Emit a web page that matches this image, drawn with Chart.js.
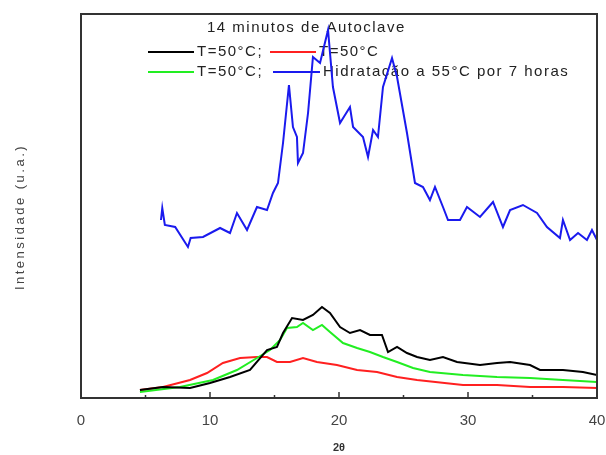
<!DOCTYPE html>
<html><head><meta charset="utf-8">
<script src="https://cdn.jsdelivr.net/npm/chart.js@4.4.1/dist/chart.umd.min.js"></script>
<style>html,body{margin:0;padding:0;background:#fff;}#c{display:block;}</style>
</head><body>
<canvas id="c" width="606" height="455"></canvas>
<script>
const xTicks = [0, 10, 20, 30, 40];
const minorTicks = [5, 15, 25, 35];
const legendTitle = "14 minutos de Autoclave";
const seriesLabels = ["T=50°C;", "T=50°C", "T=50°C;", "Hidratação a 55°C por 7 horas"];
const yTitle = "Intensidade (u.a.)";
const xTitle = "2θ";

const blueX = [6.2,6.3,6.5,7.3,8.29,8.5,9.46,10.78,11.55,12.09,12.87,13.64,14.42,14.88,15.27,15.66,16.12,16.43,16.74,16.82,17.21,17.6,17.98,18.53,19.15,19.53,20.08,20.85,21.09,21.86,22.25,22.64,23.02,23.41,24.11,24.5,25.27,25.89,26.51,27.05,27.44,28.06,28.45,29.38,29.92,30.93,31.94,32.71,33.26,34.26,35.35,36.12,37.13,37.36,37.91,38.53,39.22,39.61,40];
const blueY = [178,190,173,171,151,160,161,170,165,185,168,191,188,205,215,255,313,271,261,235,245,285,341,335,368,311,275,291,271,261,241,268,261,311,340,321,265,215,211,198,211,191,178,178,191,181,196,171,188,193,185,171,160,178,158,165,158,168,158];

const blackX = [4.57,6.36,8.45,10.0,11.55,13.1,14.42,15.19,15.66,16.36,17.21,17.98,18.68,19.3,20.08,20.85,21.63,22.4,23.33,23.8,24.5,25.27,26.05,27.05,28.06,29.15,30.93,32.25,33.26,34.81,35.58,37.36,38.91,40];
const blackY = [8,11,10,15,21,28,48,51,65,80,78,83,91,85,71,65,68,63,63,46,51,45,41,38,41,36,33,35,36,33,28,28,26,23];

const greenX = [4.57,7.67,10.23,12.09,13.64,14.65,15.43,15.97,16.74,17.21,17.98,18.68,19.3,20.31,21.4,22.4,23.41,24.5,25.74,27.05,29.61,32.25,34.81,37.36,40];
const greenY = [6,11,18,28,40,48,58,70,71,75,68,73,66,55,50,46,41,36,30,26,23,21,20,18,16];

const redX = [4.57,6.36,8.45,9.77,11.0,12.33,13.64,14.42,15.19,16.2,17.21,18.29,19.84,21.4,22.95,24.5,26.05,29.61,32.25,34.81,37.36,40];
const redY = [8,11,18,25,35,40,41,41,36,36,40,36,33,28,26,21,18,13,13,11,11,10];

const pts = (xs, ys) => xs.map((x, i) => ({x: x, y: ys[i]}));
const FONT = '"Liberation Sans", Arial, sans-serif';

const framePlugin = {
  id: 'frame',
  beforeDatasetsDraw(chart) {
    const ctx = chart.ctx;
    const a = chart.chartArea;
    ctx.save();
    ctx.fillStyle = '#222';
    ctx.font = '15px ' + FONT;
    ctx.letterSpacing = '1.5px';
    ctx.textBaseline = 'middle';
    ctx.textAlign = 'left';
    ctx.fillText(legendTitle, 207, 28);
    const rows = [
      [148, 194, 52, '#000000', seriesLabels[0]],
      [270, 316, 52, '#ff2020', seriesLabels[1]],
      [148, 194, 72, '#22ee22', seriesLabels[2]],
      [273, 320, 72, '#1a1aee', seriesLabels[3]]
    ];
    rows.forEach(r => {
      ctx.strokeStyle = r[3];
      ctx.lineWidth = 2;
      ctx.beginPath(); ctx.moveTo(r[0], r[2]); ctx.lineTo(r[1], r[2]); ctx.stroke();
      ctx.fillText(r[4], r[1] + 3, r[2]);
    });
    // y axis title
    ctx.fillStyle = '#444';
    ctx.font = '13px ' + FONT;
    ctx.letterSpacing = '2.5px';
    ctx.textAlign = 'center';
    ctx.translate(20, (a.top + a.bottom) / 2 + 11);
    ctx.rotate(-Math.PI / 2);
    ctx.fillText(yTitle, 0, 0);
    ctx.restore();
    // x axis title
    ctx.save();
    ctx.fillStyle = '#333';
    ctx.font = 'bold 11px ' + FONT;
    ctx.textAlign = 'center';
    ctx.textBaseline = 'middle';
    ctx.fillText(xTitle, chart.scales.x.getPixelForValue(20), 448);
    ctx.restore();
  },
  afterDatasetsDraw(chart) {
    const ctx = chart.ctx;
    const a = chart.chartArea;
    const xs = chart.scales.x;
    ctx.save();
    ctx.strokeStyle = '#333';
    ctx.lineWidth = 2;
    ctx.strokeRect(a.left, a.top, a.right - a.left, a.bottom - a.top);
    ctx.lineWidth = 1.5;
    xTicks.forEach(v => {
      const p = xs.getPixelForValue(v);
      ctx.beginPath(); ctx.moveTo(p, a.bottom); ctx.lineTo(p, a.bottom - 6); ctx.stroke();
    });
    minorTicks.forEach(v => {
      const p = xs.getPixelForValue(v);
      ctx.beginPath(); ctx.moveTo(p, a.bottom); ctx.lineTo(p, a.bottom - 3); ctx.stroke();
    });
    ctx.restore();
  }
};

new Chart(document.getElementById('c'), {
  type: 'line',
  data: {
    datasets: [
      {label: 'blue', data: pts(blueX, blueY), borderColor: '#1a1aee', borderWidth: 2},
      {label: 'black', data: pts(blackX, blackY), borderColor: '#000000', borderWidth: 2},
      {label: 'green', data: pts(greenX, greenY), borderColor: '#22ee22', borderWidth: 2},
      {label: 'red', data: pts(redX, redY), borderColor: '#ff2020', borderWidth: 2}
    ]
  },
  options: {
    responsive: false,
    animation: false,
    elements: {point: {radius: 0}, line: {tension: 0}},
    layout: {padding: {top: 14, right: 9, left: 0, bottom: 0}},
    plugins: {legend: {display: false}, tooltip: {enabled: false}},
    scales: {
      x: {
        type: 'linear', min: 0, max: 40,
        afterBuildTicks: s => { s.ticks = xTicks.map(v => ({value: v})); },
        ticks: {color: '#444', font: {size: 15, family: FONT}, padding: 6},
        grid: {display: false},
        border: {display: false},
        afterFit: s => { s.height = 57; s.paddingLeft = 0; s.paddingRight = 0; }
      },
      y: {
        type: 'linear', min: 0, max: 384,
        ticks: {display: false},
        grid: {display: false},
        border: {display: false},
        afterFit: s => { s.width = 81; }
      }
    }
  },
  plugins: [framePlugin]
});
</script>
</body></html>
